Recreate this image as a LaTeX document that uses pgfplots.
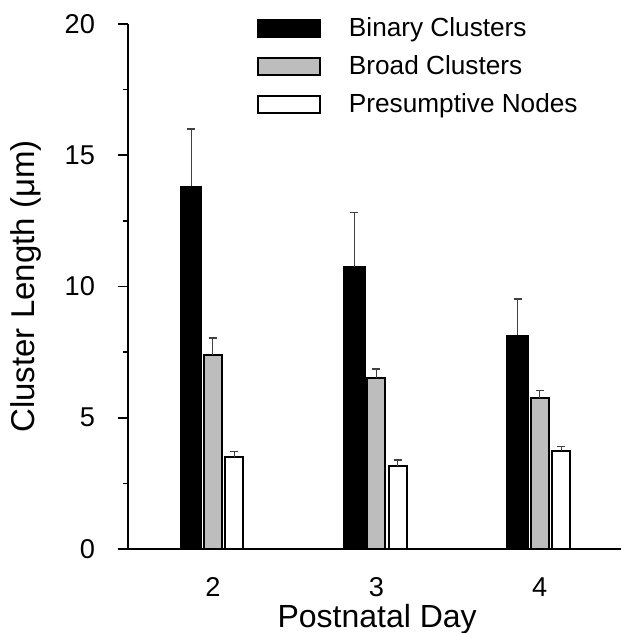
\documentclass[border=0pt]{standalone}
\usepackage{fontspec}
\setmainfont{Liberation Sans}
\usepackage{pgfplots}
\pgfplotsset{compat=1.18}

\definecolor{stipple}{gray}{0.74}
\newcommand\ticksize{\fontsize{13.6}{16}\selectfont}
\newcommand\legsize{\fontsize{13.1}{15}\selectfont}
\newcommand\xlabsize{\fontsize{16}{19}\selectfont}
\newcommand\ylabsize{\fontsize{16.5}{19}\selectfont}

\begin{document}
\begin{tikzpicture}
\begin{axis}[
  scale only axis,
  width=246.7pt, height=262.5pt,
  xmin=1.48, xmax=4.5,
  ymin=0, ymax=20,
  axis x line=bottom, axis y line=left,
  x axis line style={-, line width=0.9pt},
  y axis line style={-, line width=1pt},
  xtick={2,3,4},
  ytick={0,5,10,15,20},
  minor y tick num=1,
  tick align=outside,
  x tick style={draw=none},
  y tick style={line width=0.8pt, black},
  major tick length=5pt,
  minor tick length=2.5pt,
  /pgf/number format/assume math mode=true,
  tick label style={font=\ticksize},
  xticklabel style={yshift=-9pt, inner sep=0pt},
  yticklabel style={xshift=-8pt},
  xlabel={Postnatal Day},
  ylabel={Cluster Length (μm)},
  xlabel style={font=\xlabsize, inner sep=0pt, at={(axis description cs:0.505,-0.1486)}, anchor=base},
  ylabel style={font=\ylabsize, at={(axis description cs:-0.207,0.5)}, anchor=center},
  legend style={at={(axis description cs:0.261,1.02)}, anchor=north west,
    draw=none, fill=none, inner sep=0pt, row sep=4pt,
    font=\legsize, cells={anchor=west},
    /tikz/every odd column/.append style={column sep=12pt}},
  legend image code/.code={\draw[#1, line width=0.9pt] (0pt,-4.25pt) rectangle (31pt,4.25pt);},
  error bars/error bar style={line width=0.5pt, black!75},
  error bars/error mark options={rotate=90, line width=0.6pt, mark size=2pt, black!75},
]
\coordinate (o) at (rel axis cs:0,0);

% Binary clusters (left bar of each day)
\addplot[ybar, bar width=0.13, bar shift=0, fill=black, draw=black, line width=0.8pt,
  error bars/.cd, y dir=plus, y explicit]
  coordinates {(1.866,13.81) +- (0,2.19) (2.866,10.76) +- (0,2.06) (3.866,8.14) +- (0,1.38)};
\addlegendentry{Binary Clusters}

% Broad clusters (middle bar)
\addplot[ybar, bar width=0.11, bar shift=0, fill=stipple, draw=black, line width=1pt,
  error bars/.cd, y dir=plus, y explicit]
  coordinates {(2,7.39) +- (0,0.65) (3,6.53) +- (0,0.33) (4,5.74) +- (0,0.29)};
\addlegendentry{Broad Clusters}

% Presumptive nodes (right bar)
\addplot[ybar, bar width=0.11, bar shift=0, fill=white, draw=black, line width=1pt,
  error bars/.cd, y dir=plus, y explicit]
  coordinates {(2.131,3.51) +- (0,0.20) (3.131,3.16) +- (0,0.23) (4.131,3.75) +- (0,0.14)};
\addlegendentry{Presumptive Nodes}

\end{axis}
\pgfresetboundingbox
\path (o) ++(-64pt,-42pt) rectangle ++(311pt,316.5pt);
\end{tikzpicture}
\end{document}
